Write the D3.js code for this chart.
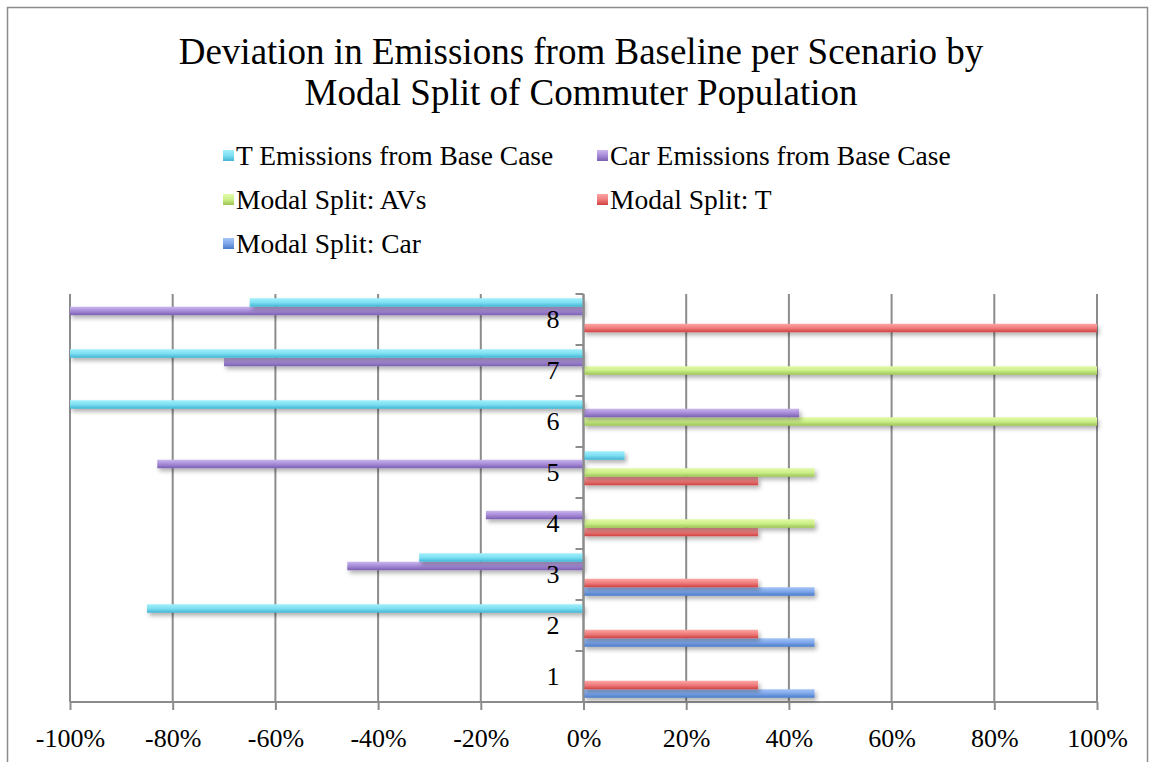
<!DOCTYPE html>
<html>
<head>
<meta charset="utf-8">
<script src="https://cdn.jsdelivr.net/npm/d3@7"></script>
<style>
  html, body { margin: 0; padding: 0; background: #fff; }
  svg { display: block; }
  text { font-family: "Liberation Serif", "Times New Roman", serif; fill: #000; }
</style>
</head>
<body>
<svg id="chart" width="1155" height="762"></svg>
<script>
// Scenarios (bottom to top on the category axis)
const categories = ["1", "2", "3", "4", "5", "6", "7", "8"];

// Series, in plotting order (first series sits lowest in each cluster)
const seriesNames = [
  "Modal Split: Car",
  "Modal Split: T",
  "Modal Split: AVs",
  "Car Emissions from Base Case",
  "T Emissions from Base Case"
];

// Values per scenario 1..8 (fractions, 1 = 100%)
const modalSplitCar   = [0.45, 0.45, 0.45, 0,    0,    0,    0,    0];
const modalSplitT     = [0.34, 0.34, 0.34, 0.34, 0.34, 0,    0,    1.00];
const modalSplitAVs   = [0,    0,    0,    0.45, 0.45, 1.00, 1.00, 0];
const carEmissions    = [0,    0,   -0.46, -0.19, -0.83, 0.42, -0.70, -1.00];
const tEmissions      = [0,   -0.85, -0.32, 0,    0.08, -1.00, -1.00, -0.65];

const seriesValues = [modalSplitCar, modalSplitT, modalSplitAVs, carEmissions, tEmissions];

// X-axis ticks
const xTicks = [-1, -0.8, -0.6, -0.4, -0.2, 0, 0.2, 0.4, 0.6, 0.8, 1];

// Legend layout order (row by row)
const legendOrder = [
  "T Emissions from Base Case", "Car Emissions from Base Case",
  "Modal Split: AVs", "Modal Split: T",
  "Modal Split: Car"
];

// Gradient stops per series: light top, mid, darker bottom
const palette = {
  "Modal Split: Car":             ["#a4c4f6", "#7ea6ea", "#4a7bc9"],
  "Modal Split: T":               ["#fca5a5", "#f07d7d", "#cf4141"],
  "Modal Split: AVs":             ["#e2fba6", "#cdef8a", "#9bc452"],
  "Car Emissions from Base Case": ["#c9b6ec", "#a78bd9", "#7b5fb0"],
  "T Emissions from Base Case":   ["#a2f0fc", "#7ddff2", "#42b5d4"]
};

const svg = d3.select("#chart");
const defs = svg.append("defs");

const slug = s => s.replace(/[^a-z0-9]+/gi, "-").toLowerCase();

Object.entries(palette).forEach(([name, c]) => {
  const g = defs.append("linearGradient")
    .attr("id", "grad-" + slug(name))
    .attr("x1", 0).attr("y1", 0).attr("x2", 0).attr("y2", 1);
  g.append("stop").attr("offset", "0%").attr("stop-color", c[0]);
  g.append("stop").attr("offset", "50%").attr("stop-color", c[1]);
  g.append("stop").attr("offset", "100%").attr("stop-color", c[2]);
});

const shadow = defs.append("filter").attr("id", "barShadow")
  .attr("x", "-5%").attr("y", "-40%").attr("width", "115%").attr("height", "220%");
shadow.append("feDropShadow")
  .attr("dx", 2).attr("dy", 3).attr("stdDeviation", 2)
  .attr("flood-color", "#000").attr("flood-opacity", 0.3);

// Outer frame
svg.append("rect")
  .attr("x", 7.5).attr("y", 7.5).attr("width", 1140).attr("height", 760)
  .attr("fill", "none").attr("stroke", "#8c8c8c").attr("stroke-width", 1.5);

// Title
const title = svg.append("text")
  .attr("text-anchor", "middle")
  .attr("font-size", 37);
title.append("tspan").attr("x", 581).attr("y", 64)
  .text("Deviation in Emissions from Baseline per Scenario by");
title.append("tspan").attr("x", 581).attr("y", 105)
  .text("Modal Split of Commuter Population");

// Legend
const legendCols = [223, 597];
const legendRows = [165, 209, 253];
const legend = svg.append("g");
legendOrder.forEach((name, i) => {
  const col = i % 2, row = Math.floor(i / 2);
  const gx = legendCols[col], gy = legendRows[row];
  legend.append("rect")
    .attr("x", gx).attr("y", gy - 15)
    .attr("width", 11).attr("height", 11)
    .attr("fill", `url(#grad-${slug(name)})`);
  legend.append("text")
    .attr("x", gx + 13).attr("y", gy)
    .attr("font-size", 27.5)
    .text(name);
});

// Plot area
const plot = { left: 70, right: 1097, top: 294, bottom: 702 };

const x = d3.scaleLinear().domain([-1, 1]).range([plot.left, plot.right]);

const y = d3.scaleBand()
  .domain(categories.slice().reverse())
  .range([plot.top, plot.bottom])
  .paddingInner(0).paddingOuter(0);

// Within a cluster, last series on top
const ySub = d3.scaleBand()
  .domain(seriesNames.slice().reverse())
  .range([0, y.bandwidth()])
  .paddingInner(0).paddingOuter(0.5);

// Vertical gridlines
svg.append("g").selectAll("line")
  .data(xTicks)
  .join("line")
  .attr("x1", d => x(d)).attr("x2", d => x(d))
  .attr("y1", plot.top).attr("y2", plot.bottom)
  .attr("stroke", "#8c8c8c").attr("stroke-width", 2);

// Bottom axis with ticks and percentage labels
const xAxis = d3.axisBottom(x)
  .tickValues(xTicks)
  .tickSize(8)
  .tickPadding(19)
  .tickFormat(d => Math.round(d * 100) + "%");

const xAxisG = svg.append("g")
  .attr("transform", `translate(0,${plot.bottom})`)
  .call(xAxis);
xAxisG.select(".domain")
  .attr("d", `M${plot.left},0H${plot.right}`)
  .attr("stroke", "#8c8c8c").attr("stroke-width", 2);
xAxisG.selectAll(".tick line").attr("stroke", "#8c8c8c").attr("stroke-width", 2);
xAxisG.selectAll(".tick text")
  .attr("font-family", "Liberation Serif, Times New Roman, serif")
  .attr("font-size", 26)
  .attr("fill", "#000");

// Bars
const barData = [];
seriesNames.forEach((name, si) => {
  seriesValues[si].forEach((v, ci) => {
    if (v !== 0) barData.push({ series: name, cat: categories[ci], value: v });
  });
});

svg.append("g")
  .selectAll("rect")
  .data(barData)
  .join("rect")
  .attr("x", d => x(Math.min(0, d.value)))
  .attr("width", d => Math.abs(x(d.value) - x(0)))
  .attr("y", d => y(d.cat) + ySub(d.series))
  .attr("height", ySub.bandwidth())
  .attr("fill", d => `url(#grad-${slug(d.series)})`)
  .attr("filter", "url(#barShadow)");

// Vertical category axis through zero
const yAxis = d3.axisLeft(y).tickSize(0).tickPadding(24);
const yAxisG = svg.append("g")
  .attr("transform", `translate(${x(0)},0)`)
  .call(yAxis);
yAxisG.select(".domain")
  .attr("d", `M0,${plot.top}V${plot.bottom}`)
  .attr("stroke", "#8c8c8c").attr("stroke-width", 2);
yAxisG.selectAll(".tick text")
  .attr("font-family", "Liberation Serif, Times New Roman, serif")
  .attr("font-size", 26)
  .attr("fill", "#000");

// Category boundary ticks
const boundaries = d3.range(categories.length + 1).map(i => plot.top + i * y.step());
yAxisG.append("g").selectAll("line")
  .data(boundaries)
  .join("line")
  .attr("x1", -8).attr("x2", 0)
  .attr("y1", d => d).attr("y2", d => d)
  .attr("stroke", "#8c8c8c").attr("stroke-width", 2);
</script>
</body>
</html>
